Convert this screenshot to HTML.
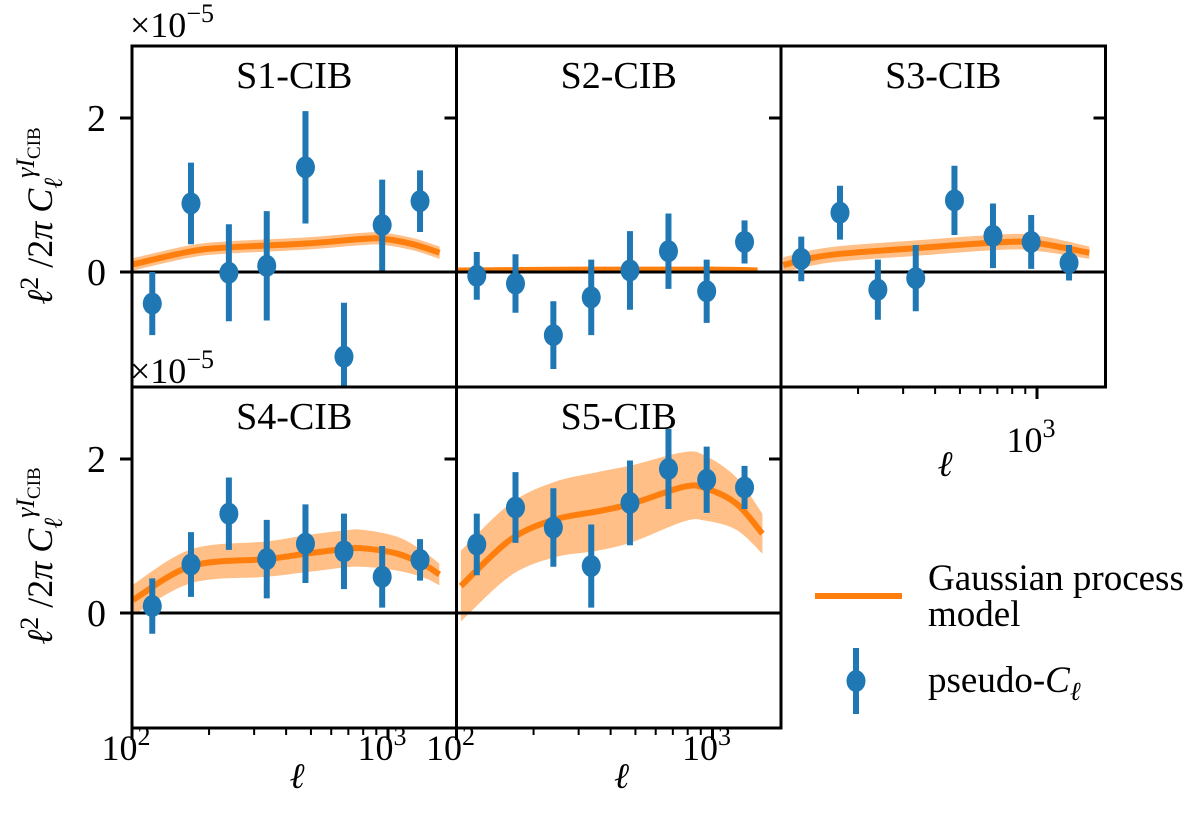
<!DOCTYPE html>
<html><head><meta charset="utf-8"><style>
body{margin:0;background:#fff}
svg text{font-family:"Liberation Serif",serif;fill:#000}
</style></head><body>
<svg id="c" width="1200" height="813" viewBox="0 0 1200 813" xmlns="http://www.w3.org/2000/svg"></svg>
<script>
const ells=[120,170,239,336,476,673,949,1334];
const s1Vals=[-0.41,0.89,-0.01,0.08,1.36,-1.10,0.61,0.92];
const s1Errs=[0.41,0.53,0.63,0.71,0.73,0.7,0.59,0.40];
const s2Vals=[-0.05,-0.15,-0.82,-0.33,0.02,0.27,-0.25,0.39];
const s2Errs=[0.31,0.38,0.44,0.49,0.51,0.49,0.41,0.28];
const s3Vals=[0.17,0.77,-0.23,-0.08,0.93,0.47,0.39,0.12];
const s3Errs=[0.29,0.35,0.39,0.43,0.45,0.42,0.35,0.23];
const s4Vals=[0.09,0.63,1.29,0.70,0.90,0.80,0.47,0.69];
const s4Errs=[0.36,0.42,0.47,0.51,0.51,0.49,0.40,0.27];
const s5Vals=[0.89,1.37,1.11,0.61,1.43,1.87,1.73,1.63];
const s5Errs=[0.40,0.46,0.51,0.54,0.55,0.52,0.43,0.28];
const m1Ell=[101,171,241,480,800,960,1254,1591];
const m1Val=[0.10,0.27,0.32,0.37,0.43,0.43,0.36,0.25];
const m1Sd=[0.08,0.08,0.08,0.08,0.08,0.08,0.08,0.08];
const m2Ell=[100,300,1000,1500];
const m2Val=[0.02,0.03,0.03,0.02];
const m2Sd=[0.02,0.02,0.02,0.02];
const m3Ell=[102,154,337,749,1023,1600];
const m3Val=[0.09,0.22,0.31,0.39,0.37,0.25];
const m3Sd=[0.1,0.1,0.1,0.1,0.1,0.08];
const m4Ell=[101,171,337,478,668,798,1088,1377,1587];
const m4Val=[0.17,0.61,0.70,0.77,0.83,0.84,0.77,0.63,0.50];
const m4Sd=[0.2,0.22,0.23,0.24,0.24,0.24,0.22,0.17,0.14];
const m5Ell=[104,162,240,356,485,775,939,1240,1567];
const m5Val=[0.35,0.95,1.21,1.32,1.42,1.64,1.62,1.42,1.03];
const m5Sd=[0.46,0.47,0.49,0.51,0.5,0.45,0.42,0.34,0.26];
const titles=["S1-CIB","S2-CIB","S3-CIB","S4-CIB","S5-CIB"];

const NS="http://www.w3.org/2000/svg";
const svg=document.getElementById('c');
function mk(tag,attrs,parent){const e=document.createElementNS(NS,tag);for(const k in attrs)e.setAttribute(k,attrs[k]);(parent||svg).appendChild(e);return e;}
function smooth(pts,start){
 let d=(start?'M':'L')+pts[0][0]+','+pts[0][1];
 for(let i=0;i<pts.length-1;i++){
  const p0=pts[Math.max(0,i-1)],p1=pts[i],p2=pts[i+1],p3=pts[Math.min(pts.length-1,i+2)];
  const c1=[p1[0]+(p2[0]-p0[0])/6,p1[1]+(p2[1]-p0[1])/6];
  const c2=[p2[0]-(p3[0]-p1[0])/6,p2[1]-(p3[1]-p1[1])/6];
  d+='C'+c1[0]+','+c1[1]+' '+c2[0]+','+c2[1]+' '+p2[0]+','+p2[1];
 }
 return d;
}
const panels=[
 {c:0,r:0,v:s1Vals,e:s1Errs,me:m1Ell,mv:m1Val,ms:m1Sd},
 {c:1,r:0,v:s2Vals,e:s2Errs,me:m2Ell,mv:m2Val,ms:m2Sd},
 {c:2,r:0,v:s3Vals,e:s3Errs,me:m3Ell,mv:m3Val,ms:m3Sd},
 {c:0,r:1,v:s4Vals,e:s4Errs,me:m4Ell,mv:m4Val,ms:m4Sd},
 {c:1,r:1,v:s5Vals,e:s5Errs,me:m5Ell,mv:m5Val,ms:m5Sd}];
const W=324.5,H=341,YMAX=2.935,UNIT=77;
panels.forEach((p,i)=>{
 const x0=132+W*p.c,y0=46+H*p.r;
 const X=l=>x0+256*(Math.log10(l)-2);
 const Y=v=>y0+(YMAX-v)*UNIT;
 const g=mk('g',{});
 
 
 const cp=mk('clipPath',{id:'cp'+i},g);
 mk('rect',{x:x0,y:y0,width:W,height:H},cp);
 const inner=mk('g',{'clip-path':'url(#cp'+i+')'},g);
 const up=p.me.map((l,k)=>[X(l),Y(p.mv[k]+p.ms[k])]);
 const lo=p.me.map((l,k)=>[X(l),Y(p.mv[k]-p.ms[k])]).reverse();
 const band=mk('path',{d:smooth(up,true)+smooth(lo,false)+'Z',fill:'#ffbf86',stroke:'none'},inner);
 
 
 const mid=p.me.map((l,k)=>[X(l),Y(p.mv[k])]);
 const line=mk('path',{d:smooth(mid,true),fill:'none',stroke:'#ff7f0e','stroke-width':6,'stroke-linejoin':'round'},inner);
 
 
 const zl=mk('line',{x1:x0,x2:x0+W,y1:Y(0),y2:Y(0),stroke:'#000','stroke-width':3},inner);
 
 
 ells.forEach((l,k)=>{
  const eb=mk('line',{x1:X(l),x2:X(l),y1:Y(p.v[k]+p.e[k]),y2:Y(p.v[k]-p.e[k]),stroke:'#1f77b4','stroke-width':6},inner);
  
  
  const pt=mk('ellipse',{cx:X(l),cy:Y(p.v[k]),rx:9.5,ry:11,fill:'#1f77b4'},inner);
  
  
 });
 const fr=mk('rect',{x:x0,y:y0,width:W,height:H,fill:'none',stroke:'#000','stroke-width':3},g);
 
 
 const t=mk('text',{x:x0+W/2,y:y0+42,'text-anchor':'middle','font-size':38},g);t.textContent=titles[i];
 
 
 [0,2].forEach(v=>{
  if(p.c===0)mk('line',{x1:x0-12,x2:x0,y1:Y(v),y2:Y(v),stroke:'#000','stroke-width':3},g);
  mk('line',{x1:x0+W-12,x2:x0+W,y1:Y(v),y2:Y(v),stroke:'#000','stroke-width':3},g);
  if(p.c===0){const tl=mk('text',{x:x0-26,y:Y(v)+13,'text-anchor':'end','font-size':38},g);tl.textContent=v;
   
   }
 });
 if(p.r===1||p.c===2){
  const yb=y0+H;
  for(let dec=100;dec<=1000;dec*=10)for(let m=1;m<10;m++){
   const l=dec*m;const x=X(l);if(x<x0-1||x>x0+W+1)continue;
   const major=(m===1);
   mk('line',{x1:x,x2:x,y1:yb,y2:yb+(major?12:7),stroke:'#000','stroke-width':major?3:2},g);
   if(major&&!(p.c===2&&l===100)){const tl=mk('text',{x:x-6,y:yb+(p.c===2?66:32)-(p.c===2?0:0)+ (p.c===2?0:0),'text-anchor':'middle','font-size':36},g);
    tl.setAttribute('y',p.c===2?yb+68:yb+30+2);
    tl.setAttribute('y',p.c===2?452:760);
    tl.innerHTML='10<tspan dy="-15" font-size="26">'+(l===100?2:3)+'</tspan>';
    
    }
  }
  const xl=mk('text',{x:p.c===2?945:x0+165,y:p.c===2?476:788,'text-anchor':'middle','font-size':36,'font-style':'italic'},g);xl.textContent='ℓ';
  
  
 }
});
[[130,37],[130,383]].forEach(([x,y])=>{const t=mk('text',{x:x,y:y,'font-size':36});t.innerHTML='×10<tspan dy="-15" font-size="26">−5</tspan>';
 
 });
[216,556].forEach(cy=>{const t=mk('text',{x:0,y:0,'font-size':36,'text-anchor':'middle',transform:'translate(52,'+cy+') rotate(-90)'});
 t.innerHTML='<tspan font-style="italic">ℓ</tspan><tspan dy="-14" font-size="26">2</tspan><tspan dy="14"> /2</tspan><tspan font-style="italic">π C</tspan><tspan dy="10" font-size="26" font-style="italic">ℓ</tspan><tspan dy="-28" font-size="26" font-style="italic">γI</tspan><tspan dy="6" font-size="19">CIB</tspan>';
 
 });
const lg=mk('g',{});


mk('line',{x1:815,x2:902,y1:596,y2:596,stroke:'#ff7f0e','stroke-width':6},lg);
let t1=mk('text',{x:928,y:590,'font-size':37},lg);t1.textContent='Gaussian process';
let t2=mk('text',{x:928,y:626,'font-size':37},lg);t2.textContent='model';
mk('line',{x1:856,x2:856,y1:648,y2:714,stroke:'#1f77b4','stroke-width':6},lg);
mk('ellipse',{cx:856,cy:681,rx:9.5,ry:11,fill:'#1f77b4'},lg);
let t3=mk('text',{x:928,y:692,'font-size':37},lg);t3.innerHTML='pseudo-<tspan font-style="italic">C</tspan><tspan dy="8" font-size="26" font-style="italic">ℓ</tspan>';
</script>
</body></html>
